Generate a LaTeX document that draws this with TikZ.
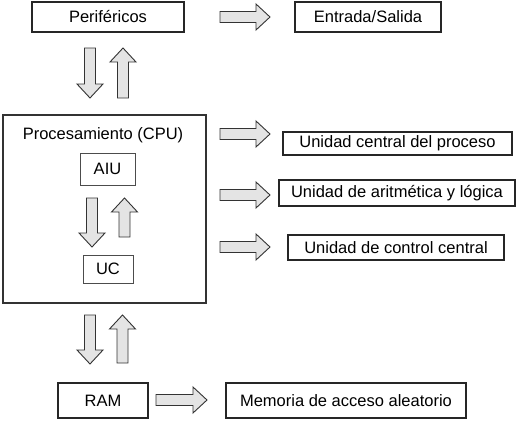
\documentclass[tikz,border=0pt]{standalone}
\usepackage{fontspec}
\setmainfont{Liberation Sans}
\usepackage{tikz}
\usetikzlibrary{calc}
\definecolor{arrowgray}{HTML}{E4E4E4}
\def\blockarrow[#1](#2)(#3){\draw[blkarrow, shift={(#2)}, rotate=#1] (0,-5.5) -- (#3-14,-5.5) -- (#3-14,-13) -- (#3,0) -- (#3-14,13) -- (#3-14,5.5) -- (0,5.5) -- cycle;}
\tikzset{
  box/.style={draw=black!85, line width=1.1pt, inner sep=0pt, font=\fontsize{16.5}{20}\selectfont},
  smallbox/.style={box, draw=black!70, line width=0.8pt},
  blkarrow/.style={draw=black!80, fill=arrowgray, line width=0.9pt, line join=miter}
}

\begin{document}
\begin{tikzpicture}[x=1pt, y=-1pt]
				%%%%% START %%%%%
				\useasboundingbox (0,0) rectangle (525,423);
				
				\node[box, minimum width=152, minimum height=30] (per) at (108,17) {Periféricos};
				\node[box, minimum width=146, minimum height=30] (io) at (368,17) {Entrada/Salida};
				\blockarrow[0](220,17)(50);
				
				\blockarrow[-90](90,48)(50);
				\blockarrow[90](123,98)(50);
				
				\node[box, draw=black!80, minimum width=203, minimum height=188] (cpu) at (104.5,209) {};
				\node[font=\fontsize{16.5}{20}\selectfont] (cputitle) at (103,135) {Procesamiento (CPU)};
				\node[smallbox, minimum width=55, minimum height=32] (aiu) at (107.5,169) {AIU};
				\node[smallbox, minimum width=50, minimum height=28] (uc) at (108,269) {UC};
				\blockarrow[-90](92,198)(49);
				\blockarrow[90](124.5,237)(39);
				
				\blockarrow[0](220,134)(50);
				\blockarrow[0](220,195)(50);
				\blockarrow[0](220,247)(50);
				\node[box, minimum width=229, minimum height=23] (ucp) at (397.5,143.5) {Unidad central del proceso};
				\node[box, minimum width=236, minimum height=26] (ual) at (397,193) {Unidad de aritmética y lógica};
				\node[box, minimum width=216, minimum height=25] (ucc) at (396,247.5) {Unidad de control central};
				
				\blockarrow[-90](90,315)(49);
				\blockarrow[90](122.5,363)(48);
				
				\node[box, minimum width=90, minimum height=35] (ram) at (103,400.5) {RAM};
				\node[box, minimum width=240, minimum height=35] (mem) at (346,400.5) {Memoria de acceso aleatorio};
				\blockarrow[0](156,400)(51);
				%%%%% END %%%%%
			\end{tikzpicture}
\end{document}
